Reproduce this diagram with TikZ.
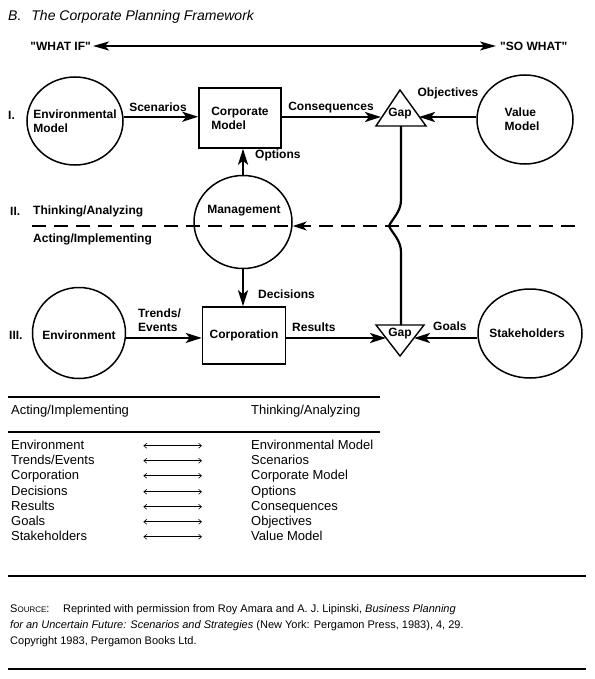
\documentclass[tikz,border=0pt]{standalone}
\usepackage{fontspec}
\setmainfont{Liberation Sans}[Ligatures=TeXOff]
\usetikzlibrary{arrows.meta,positioning,shapes.geometric}

\begin{document}
\begin{tikzpicture}[
		x=1pt, y=-1pt,
		every node/.style={
			inner sep=0pt,
			align=left,
			font=\bfseries\fontsize{12}{14}\selectfont
		},
		circ/.style={draw, ellipse, line width=1.5pt},
		box/.style={draw, rectangle, line width=1.5pt},
		tri/.style={line width=1.4pt, line join=miter},
		flow/.style={line width=2.4pt, -{Stealth[length=16pt,width=10pt,inset=4pt]}},
		twoway/.style={line width=2.2pt, {Stealth[length=16pt,width=9pt,inset=4pt]}-{Stealth[length=16pt,width=9pt,inset=4pt]}, shorten <=2pt, shorten >=4pt},
		split/.style={line width=1.6pt, dash pattern=on 14pt off 8pt},
		link/.style={line width=2.2pt},
		rule/.style={line width=1.6pt},
		tab/.style={font=\fontsize{13}{15}\selectfont, anchor=base west, text height=9.5pt, text depth=3pt},
		tabl/.style={tab, text width=131pt},
		pair/.style={line width=0.6pt, {Straight Barb[length=3pt,width=5pt]}-{Straight Barb[length=3pt,width=5pt]}, shorten <=1pt, shorten >=49pt}
		]
		\useasboundingbox (0,0) rectangle (594,679);
		
		\node (title) [anchor=base west, font=\itshape\fontsize{14}{16}\selectfont] at (8,21) {B.\hspace{10pt}The Corporate Planning Framework};
		
		\node (whatif) [anchor=east] at (91,46) {"WHAT IF"};
		\node (sowhat) [anchor=west] at (500,46) {"SO WHAT"};
		\draw[twoway] (whatif) -- (sowhat);
		
		% row labels
		\node (rowI) [anchor=west] at (8,115) {I.};
		\node (rowII) [anchor=west] at (10,211) {II.};
		\node (rowIII) [anchor=west] at (9,335) {III.};
		\node (think) [anchor=west] at (33,211) {Thinking/Analyzing};
		\node (act) [anchor=west] at (33,239) {Acting/Implementing};
		
		% row I
		\node[circ, minimum width=96pt, minimum height=88pt] (envmod) at (75,121) {};
		\node (envmodtxt) at (75,121) {Environmental\\Model};
		\node[box, minimum width=82pt, minimum height=60pt] (cormod) at (240,118) {Corporate\\Model};
		\node[circ, minimum width=96pt, minimum height=89pt] (valmod) at (525,119.5) {};
		\node (valmodtxt) at (522,119) {Value\\Model};
		
		\coordinate (gapupA) at (400,90);
		\coordinate (gapupB) at (426,126);
		\coordinate (gapupC) at (376,126);
		\draw[tri] (gapupA) -- (gapupB) -- (gapupC) -- cycle;
		\node (gapup) at (400,114) {Gap};
		\coordinate (gapupl) at (381,117);
		\coordinate (gapupr) at (419,117);
		\coordinate (gapupbot) at (401,126);
		
		\draw[flow] (envmod.5) -- (envmod.5 -| cormod.west);
		\draw[flow] (cormod.east |- gapupl) -- (gapupl);
		\draw[flow] (valmod.west |- gapupr) -- (gapupr);
		\node (scen) at (158,107) {Scenarios};
		\node (conseq) at (331,108) {Consequences};
		\node (object) at (448,93) {Objectives};
		
		% management
		\node[circ, minimum width=98pt, minimum height=93pt] (mgmt) at (243,222) {};
		\node (mgmttxt) at (244,211) {Management};
		\draw[flow] (mgmt.north) -- (mgmt.north |- cormod.south);
		\node (options) [anchor=west] at (255,155) {Options};
		
		\coordinate (dashL) at (32,226);
		\coordinate (dashR) at (575,226);
		\draw[split] (dashL) -- (dashL -| mgmt.east);
		\draw[split, -{Stealth[length=14pt,width=9pt,inset=4pt]}] (dashR) -- (dashR -| mgmt.east);
		
		% row III
		\node[circ, minimum width=93pt, minimum height=91pt] (env) at (79,333) {};
		\node (envtxt) at (79,335) {Environment};
		\node[box, minimum width=83pt, minimum height=57pt] (corp) at (244,335.5) {Corporation};
		\node[circ, minimum width=104pt, minimum height=89pt] (stake) at (530,333.5) {};
		\node (staketxt) at (527,333) {Stakeholders};
		
		\coordinate (gapdnA) at (376,325);
		\coordinate (gapdnB) at (424,325);
		\coordinate (gapdnC) at (400,356);
		\draw[tri] (gapdnA) -- (gapdnB) -- (gapdnC) -- cycle;
		\node (gapdn) at (400,334) {Gap};
		\coordinate (gapdnl) at (386,338);
		\coordinate (gapdnr) at (414,338);
		\coordinate (gapdntop) at (401,325);
		
		\draw[flow] (mgmt.south) -- (mgmt.south |- corp.north);
		\node (decis) [anchor=west] at (258,294) {Decisions};
		\draw[flow] (env.-6) -- (env.-6 -| corp.west);
		\node (trends) [anchor=west] at (138,320) {Trends/\\Events};
		\draw[flow] (corp.east |- gapdnl) -- (gapdnl);
		\node (results) [anchor=west] at (292,327) {Results};
		\draw[flow] (stake.west |- gapdnr) -- (gapdnr);
		\node (goals) [anchor=west] at (433,326) {Goals};
		
		% gap to gap, jumping the dashed line
		\draw[link] (gapupbot) -- (401,200) .. controls (401,212) and (392,219) .. (389,226) .. controls (392,233) and (401,240) .. (401,252) -- (gapdntop);
		
		% table
		\draw[rule] (8,397) -- (380,397);
		\node[tab] (acthd) at (11,414) {Acting/Implementing};
		\node[tab] (thkhd) at (251,414) {Thinking/Analyzing};
		\draw[rule] (8,432) -- (380,432);
		
		\node[tabl] (act1) at (11,449) {Environment};
		\node[tab] (thk1) at (251,449) {Environmental Model};
		\node[tabl] (act2) at (11,464) {Trends/Events};
		\node[tab] (thk2) at (251,464) {Scenarios};
		\node[tabl] (act3) at (11,479) {Corporation};
		\node[tab] (thk3) at (251,479) {Corporate Model};
		\node[tabl] (act4) at (11,495) {Decisions};
		\node[tab] (thk4) at (251,495) {Options};
		\node[tabl] (act5) at (11,510) {Results};
		\node[tab] (thk5) at (251,510) {Consequences};
		\node[tabl] (act6) at (11,525) {Goals};
		\node[tab] (thk6) at (251,525) {Objectives};
		\node[tabl] (act7) at (11,540) {Stakeholders};
		\node[tab] (thk7) at (251,540) {Value Model};
		\draw[pair] (act1) -- (thk1);
		\draw[pair] (act2) -- (thk2);
		\draw[pair] (act3) -- (thk3);
		\draw[pair] (act4) -- (thk4);
		\draw[pair] (act5) -- (thk5);
		\draw[pair] (act6) -- (thk6);
		\draw[pair] (act7) -- (thk7);
		
		% source note
		\draw[rule] (8,576) -- (586,576);
		\node (source) [anchor=base west, font=\fontsize{11}{16}\selectfont] at (10,644) {\makebox[53pt][l]{S{\fontsize{8}{8}\selectfont OURCE}:}Reprinted with permission from Roy Amara and A. J. Lipinski, \textit{Business Planning}\\\textit{for an Uncertain Future: Scenarios and Strategies} (New York: Pergamon Press, 1983), 4, 29.\\Copyright 1983, Pergamon Books Ltd.};
		\draw[rule] (8,669) -- (586,669);
		
	\end{tikzpicture}
\end{document}
